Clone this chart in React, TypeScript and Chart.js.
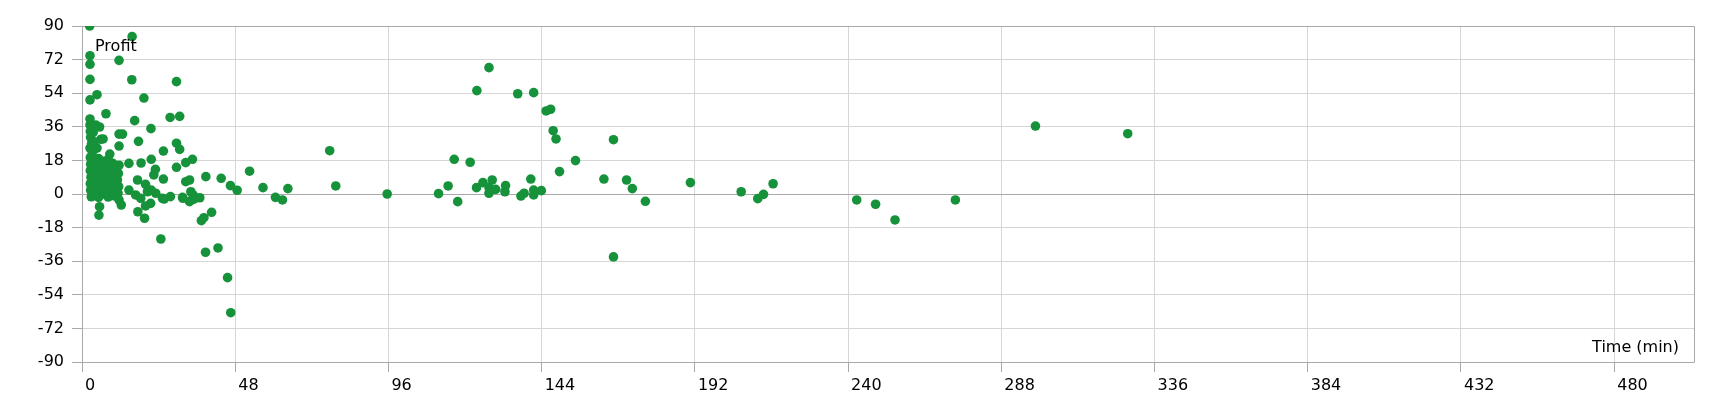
import React, { useEffect, useRef } from "react";
import { Chart, registerables } from "chart.js";

Chart.register(...registerables);

// Time (minutes) and profit for each trade
const timeMin: number[] = [
  // upper / scattered points near the start
  2.4, 15.7, 2.5, 2.5, 11.6, 2.5, 15.6, 29.6, 2.5, 4.7, 19.4, 7.5, 27.6, 30.6, 16.5, 2.5, 2.5, 4.3, 5.5, 21.6,
  11.6, 12.7, 2.7, 6.6, 17.7, 11.6, 29.6, 30.6, 2.5, 4.7, 25.5, 8.7, 21.7, 34.6, 32.5, 18.5, 29.6, 14.7, 11.6, 23,
  22.5, 25.5, 38.8, 43.6, 52.5, 32.5, 33.7, 46.5, 48.6, 56.7, 64.5, 17.4, 19.9, 5.9, 2.6, 3.5, 3.0, 3.8,
  // below zero, early
  5.5, 5.3, 12.3, 11.6, 17.5, 19.6, 19.9, 21.5, 24.7, 25.7, 27.7, 31.5, 33.7, 36.9, 34.8, 37.4, 38.2, 40.6, 38.7, 42.6,
  45.6, 46.6, 60.6, 62.8, 34.1, 35.1, 31.6, 14.7, 16.8, 18.4, 20.5, 23.1, 25.2, 21.7,
  // dense cluster
  2.6, 2.7, 2.6, 2.8, 2.6, 2.7, 2.9, 3.9, 4.1, 3.8, 4.0, 4.2, 3.9, 5.2, 5.4, 5.1, 5.5, 5.3, 5.6, 5.2,
  6.7, 6.9, 6.6, 7.0, 6.8, 7.1, 8.2, 8.4, 8.1, 8.5, 8.3, 8.6, 8.2, 9.6, 9.9, 9.7, 10.0, 9.8, 10.1, 11.2,
  11.4, 11.1, 11.5, 11.3, 3.2,
  // later trades
  77.6, 79.5, 95.6, 111.7, 114.7, 116.6, 117.7, 121.6, 123.7, 127.5, 123.6, 125.6, 128.5, 127.5, 127.5, 129.6, 132.7, 132.5, 136.5, 141.5,
  137.5, 138.5, 140.6, 141.5, 141.5, 143.9, 145.4, 146.8, 147.6, 148.5, 149.6, 154.6, 163.5, 166.5, 166.5, 170.6, 172.4, 176.5, 190.6, 206.5,
  211.7, 213.5, 216.5, 242.7, 248.6, 254.7, 273.6, 298.7, 327.6,
];

const profit: number[] = [
  90, 84.3, 74.1, 69.5, 71.6, 61.4, 61.2, 60.2, 50.4, 53.2, 51.4, 43, 41, 41.6, 39.3, 40.2, 37, 37, 35.9, 35,
  32.1, 32.1, 30.3, 29.5, 28.2, 25.7, 27.2, 23.9, 24.6, 24.6, 23, 21.4, 18.6, 18.6, 16.8, 16.6, 14.3, 16.4, 15.4, 13.2,
  10.2, 8, 9.3, 8.4, 12.2, 6.6, 7.5, 4.5, 2, 3.4, 2.9, 7.5, 5.2, 29.3, 33.5, 33, 27, 28,
  -6.8, -11.3, -5.9, -3.2, -9.5, -13, -6.4, -5, -24.1, -2.7, -1.4, -1.8, -4.1, -2, -0.5, -14.3, -12.7, -9.8, -31.2, -28.9,
  -44.8, -63.6, -1.8, -3.2, 1.2, -2.8, -2.3, 2.1, -0.5, -2.3, 1.2, 0.4, -2.3, 2.1,
  19.5, 16, 12.5, 9, 5.5, 2, -1.5, 18, 14.5, 11, 7.5, 4, 0.5, 19, 15.5, 12, 8.5, 5, 1.5, -1.8,
  17.5, 14, 10.5, 7, 3.5, 0, 18.5, 15, 11.5, 8, 4.5, 1, -1.6, 16.5, 13, 9.5, 6, 2.5, -1, 15,
  11, 7.5, 4, 0.5, 22,
  23.2, 4.3, 0, 0.2, 4.3, 18.6, -4.1, 17, 55.4, 67.7, 3.4, 6.1, 7.5, 0.4, 3.4, 2.5, 4.5, 1.2, 53.7, 54.3,
  -1.1, 0.4, 8, 2.1, -0.5, 1.8, 44.5, 45.4, 33.9, 29.5, 12, 17.9, 8, 29.1, -33.7, 7.5, 2.9, -3.9, 6.1, 1.2,
  -2.5, -0.2, 5.5, -3.2, -5.5, -13.9, -3.2, 36.4, 32.3,
];

const X_MIN = 0;
const X_MAX = 505;
const X_STEP = 48;
const Y_MIN = -90;
const Y_MAX = 90;
const Y_STEP = 18;
const yTitle = "Profit";
const xTitle = "Time (min)";

const FONT = "'DejaVu Sans', sans-serif";
const GREEN = "#16923a";
const GRID = "#d6d6d6";
const AXIS = "#a9a9a9";

export default function App() {
  const ref = useRef<HTMLCanvasElement>(null);

  useEffect(() => {
    if (!ref.current) return;

    const framePlugin = {
      id: "frame",
      beforeDatasetsDraw(chart: any) {
        const { ctx, chartArea } = chart;
        const l = Math.round(chartArea.left) + 0.5;
        const t = Math.round(chartArea.top) + 0.5;
        const r = Math.round(chartArea.right) + 0.5;
        const b = Math.round(chartArea.bottom) + 0.5;
        ctx.save();
        ctx.strokeStyle = AXIS;
        ctx.lineWidth = 1;
        ctx.beginPath();
        ctx.rect(l, t, r - l, b - t);
        ctx.stroke();
        ctx.restore();
      },
      afterDraw(chart: any) {
        const { ctx, chartArea } = chart;
        ctx.save();
        ctx.fillStyle = "#000";
        ctx.font = `16px ${FONT}`;
        ctx.textBaseline = "alphabetic";
        ctx.textAlign = "left";
        ctx.fillText(yTitle, chartArea.left + 13, chartArea.top + 24.5);
        ctx.textAlign = "right";
        ctx.fillText(xTitle, chartArea.right - 15, chartArea.bottom - 10.5);
        ctx.restore();
      },
    };

    const points = timeMin.map((t, i) => ({ x: t, y: profit[i] }));

    const chart = new Chart(ref.current, {
      type: "scatter",
      data: {
        datasets: [
          {
            label: yTitle,
            data: points,
            backgroundColor: GREEN,
            borderColor: GREEN,
            borderWidth: 0,
            pointRadius: 4.8,
            pointHoverRadius: 4.8,
          },
        ],
      },
      options: {
        animation: false,
        responsive: false,
        events: [],
        layout: { padding: { top: 26, right: 26, left: 0, bottom: 0 } },
        plugins: {
          legend: { display: false },
          tooltip: { enabled: false },
          title: { display: false },
        },
        scales: {
          x: {
            type: "linear",
            min: X_MIN,
            max: X_MAX,
            afterBuildTicks: (s: any) => {
              s.ticks = s.ticks.filter((t: any) => t.value % X_STEP === 0);
            },
            afterFit: (s: any) => {
              s.height = 38;
            },
            ticks: {
              stepSize: X_STEP,
              align: "start",
              labelOffset: 3,
              padding: 4,
              color: "#000",
              font: { family: FONT, size: 16 },
              maxRotation: 0,
              autoSkip: false,
            },
            grid: {
              color: (c: any) => (c.tick && c.tick.value === 0 ? AXIS : GRID),
              tickColor: AXIS,
              tickLength: 10,
            },
            border: { display: false },
          },
          y: {
            type: "linear",
            min: Y_MIN,
            max: Y_MAX,
            afterFit: (s: any) => {
              s.width = 82;
            },
            ticks: {
              stepSize: Y_STEP,
              padding: 8,
              color: "#000",
              font: { family: FONT, size: 16 },
              autoSkip: false,
            },
            grid: {
              color: (c: any) =>
                c.tick && (c.tick.value === 0 || Math.abs(c.tick.value) === 90) ? AXIS : GRID,
              tickColor: AXIS,
              tickLength: 10,
            },
            border: { display: false },
          },
        },
      },
      plugins: [framePlugin],
    });

    return () => chart.destroy();
  }, []);

  return (
    <div style={{ position: "fixed", left: 0, top: 0, width: 1720, height: 400, background: "#fff" }}>
      <canvas ref={ref} width={1720} height={400} style={{ display: "block" }} />
    </div>
  );
}
